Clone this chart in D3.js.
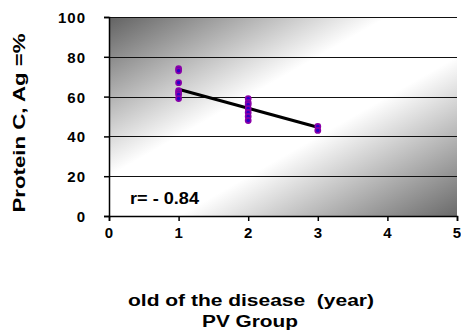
<!DOCTYPE html>
<html><head><meta charset="utf-8">
<script src="https://cdn.jsdelivr.net/npm/d3@7"></script>
<style>body{margin:0;background:#fff;}svg{display:block;}text{font-family:"Liberation Sans",Arial,sans-serif;font-weight:bold;fill:#000;}</style>
</head><body>
<svg id="c" width="461" height="336"></svg>
<script>
const xTicks = [0, 1, 2, 3, 4, 5];
const yTicks = [0, 20, 40, 60, 80, 100];
const group1X = [1, 1, 1, 1, 1, 1, 1];
const group1Y = [74, 73, 67, 63, 62, 61, 59];
const group2X = [2, 2, 2, 2, 2, 2, 2];
const group2Y = [59, 57, 56, 54, 52, 50, 48];
const group3X = [3, 3];
const group3Y = [45, 43];
const trendX = [1, 3];
const trendY = [63.7, 44.6];
const rLabel = "r= - 0.84";
const xTitle = ["old of the disease  (year)", "PV Group"];
const yTitle = "Protein C, Ag =%";

const svg = d3.select("#c");
const L = 109, R = 457, T = 17, B = 216;
const x = d3.scaleLinear().domain([0, 5]).range([L, R]);
const y = d3.scaleLinear().domain([0, 100]).range([B, T]);

const defs = svg.append("defs");
const g = defs.append("linearGradient").attr("id", "bg").attr("x1", 0).attr("y1", 0).attr("x2", 1).attr("y2", 1);
g.append("stop").attr("offset", 0).attr("stop-color", "#626262");
g.append("stop").attr("offset", 0.4).attr("stop-color", "#fff");
g.append("stop").attr("offset", 0.6).attr("stop-color", "#fff");
g.append("stop").attr("offset", 1).attr("stop-color", "#6a6a6a");

svg.append("rect").attr("x", L).attr("y", T).attr("width", R - L).attr("height", B - T).attr("fill", "url(#bg)");

// gridlines
svg.append("g").selectAll("line").data(yTicks.filter(d => d > 0)).join("line")
  .attr("x1", L).attr("x2", R).attr("y1", d => Math.round(y(d)) + 0.5).attr("y2", d => Math.round(y(d)) + 0.5)
  .attr("stroke", "#111").attr("stroke-width", 1.2);

// axes
const fmt = d3.format("d");
const ya = svg.append("g").attr("transform", `translate(${L},0)`)
  .call(d3.axisLeft(y).tickValues(yTicks).tickFormat(fmt).tickSize(5).tickPadding(18));
const xa = svg.append("g").attr("transform", `translate(0,${B})`)
  .call(d3.axisBottom(x).tickValues(xTicks).tickFormat(fmt).tickSize(5).tickPadding(6));
[ya, xa].forEach(a => {
  a.selectAll("path").attr("stroke", "#000").attr("stroke-width", 1.5);
  a.selectAll("line").attr("stroke", "#000").attr("stroke-width", 1.5);
  a.selectAll("text").attr("font-size", 15).attr("letter-spacing", "1px")
    .attr("font-family", '"Liberation Sans",Arial,sans-serif').attr("font-weight", "bold").attr("fill", "#000");
});
ya.selectAll("text").attr("dy", "0.36em");

// trend line
svg.append("line").attr("x1", x(trendX[0])).attr("y1", y(trendY[0])).attr("x2", x(trendX[1])).attr("y2", y(trendY[1]))
  .attr("stroke", "#000").attr("stroke-width", 3);

// points
const pts = [];
[[group1X, group1Y], [group2X, group2Y], [group3X, group3Y]].forEach(([xs, ys]) => xs.forEach((v, i) => pts.push([v, ys[i]])));
svg.append("g").selectAll("circle").data(pts).join("circle")
  .attr("cx", d => x(d[0])).attr("cy", d => y(d[1])).attr("r", 2.6)
  .attr("fill", "#2a00c8").attr("stroke", "#8a00a8").attr("stroke-width", 1.6);

svg.append("text").attr("x", 130).attr("y", 204).attr("font-size", 16)
  .attr("textLength", 69).attr("lengthAdjust", "spacingAndGlyphs").text(rLabel);

svg.append("text").attr("transform", "translate(25,123) rotate(-90)").attr("text-anchor", "middle").attr("font-size", 16)
  .attr("textLength", 179).attr("lengthAdjust", "spacingAndGlyphs").text(yTitle);
svg.append("text").attr("x", 251).attr("y", 306).attr("text-anchor", "middle").attr("font-size", 16)
  .style("white-space", "pre")
  .attr("textLength", 246).attr("lengthAdjust", "spacingAndGlyphs").text(xTitle[0]);
svg.append("text").attr("x", 250).attr("y", 327).attr("text-anchor", "middle").attr("font-size", 16)
  .attr("textLength", 96).attr("lengthAdjust", "spacingAndGlyphs").text(xTitle[1]);
</script>
</body></html>
